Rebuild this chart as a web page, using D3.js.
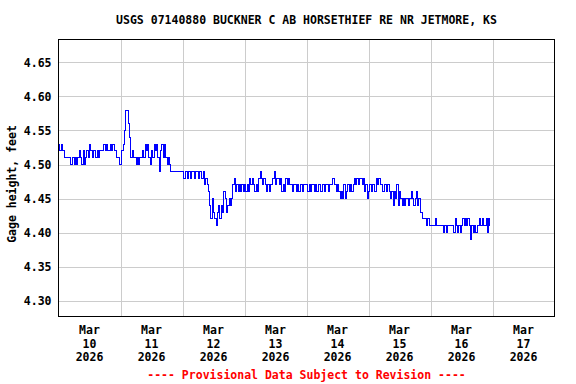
<!DOCTYPE html>
<html>
<head>
<meta charset="utf-8">
<script src="https://cdn.jsdelivr.net/npm/d3@7"></script>
<style>
  html, body { margin: 0; padding: 0; background: #fff; }
  svg text { font-family: "DejaVu Sans Mono", "Liberation Mono", monospace; font-weight: bold; }
</style>
</head>
<body>
<div id="chart"></div>
<script>
// ---- data: gage height, hundredths of a foot above 4.00 ft, every 30 minutes from Mar 10 00:00 ----
const title = "USGS 07140880 BUCKNER C AB HORSETHIEF RE NR JETMORE, KS";
const yTitle = "Gage height, feet";
const footnote = "---- Provisional Data Subject to Revision ----";
const stepMinutes = 30;
const mar10 = [53,52,53,52,52,51,51,51,51,50,50,51,50,51,50,51,52,51,50,52,50,51,52,51,
               53,52,51,52,52,51,52,51,52,52,52,53,52,53,52,52,53,52,53,52,52,51,51,50];
const mar11 = [50,52,53,55,58,58,56,54,51,52,51,51,50,51,50,51,51,52,51,53,52,53,51,50,
               52,51,53,52,53,51,49,52,53,51,53,51,50,51,50,49,49,49,49,49,49,49,49,49];
const mar12 = [49,48,49,49,48,49,48,49,49,48,49,49,48,49,49,48,49,47,48,47,46,44,42,45,
               43,42,41,43,44,42,44,43,46,45,43,44,45,44,45,47,48,46,47,46,47,46,47,46];
const mar13 = [47,46,47,46,48,47,48,47,46,47,46,48,49,48,47,48,47,46,47,46,47,47,48,49,
               47,48,48,47,48,46,47,46,48,47,48,47,47,46,47,47,46,47,46,47,47,46,47,47];
const mar14 = [47,46,47,46,47,47,46,47,46,47,47,46,47,47,46,47,47,46,47,47,48,48,47,46,
               47,46,45,46,45,47,45,46,47,46,47,46,47,48,47,48,47,48,48,47,48,46,47,45];
const mar15 = [46,47,46,47,47,46,48,47,48,47,47,46,47,47,46,47,46,45,46,44,46,45,47,44,
               46,45,44,45,44,45,45,44,45,46,45,44,45,46,44,45,43,43,42,42,42,41,42,41];
const mar16 = [41,41,41,41,42,41,41,41,41,41,40,41,40,41,41,41,41,41,40,42,41,40,41,40,
               41,42,41,42,41,42,41,39,41,40,41,40,41,41,42,41,42,41,41,42,40,42,41];
const yTicks = [4.30, 4.35, 4.40, 4.45, 4.50, 4.55, 4.60, 4.65];
const yDomain = [4.2765, 4.6838];
const xStart = Date.UTC(2026, 2, 10);
const xEnd = Date.UTC(2026, 2, 18);

const days = [mar10, mar11, mar12, mar13, mar14, mar15, mar16];
const series = days.flat().map((v, i) => ({
  t: new Date(xStart + i * stepMinutes * 60000),
  v: 4 + v / 100
}));

// ---- layout ----
const W = 576, H = 384;
const plot = { left: 58.5, right: 554.5, top: 39.5, bottom: 316.5 };

const svg = d3.select("#chart").append("svg")
  .attr("width", W).attr("height", H)
  .style("display", "block");

svg.append("rect").attr("width", W).attr("height", H).attr("fill", "#fff");

const x = d3.scaleUtc().domain([new Date(xStart), new Date(xEnd)]).range([plot.left, plot.right]);
const y = d3.scaleLinear().domain(yDomain).range([plot.bottom, plot.top]);

// grid
const grid = svg.append("g").attr("shape-rendering", "crispEdges");
grid.selectAll("line.h").data(yTicks).join("line")
  .attr("x1", plot.left).attr("x2", plot.right)
  .attr("y1", d => Math.round(y(d)) + 0.5).attr("y2", d => Math.round(y(d)) + 0.5)
  .attr("stroke", "#cccccc").attr("stroke-width", 1);
const dayBounds = d3.utcDay.range(new Date(xStart + 86400000), new Date(xEnd));
grid.selectAll("line.v").data(dayBounds).join("line")
  .attr("y1", plot.top).attr("y2", plot.bottom)
  .attr("x1", d => Math.round(x(d)) + 0.5).attr("x2", d => Math.round(x(d)) + 0.5)
  .attr("stroke", "#cccccc").attr("stroke-width", 1);

// data line
const line = d3.line()
  .x(d => x(d.t))
  .y(d => y(d.v))
  .curve(d3.curveStepAfter);
svg.append("path")
  .datum(series)
  .attr("d", line)
  .attr("fill", "none")
  .attr("stroke", "#0000ff")
  .attr("stroke-width", 1)
  .attr("shape-rendering", "crispEdges");

// frame
svg.append("rect")
  .attr("x", plot.left).attr("y", plot.top)
  .attr("width", plot.right - plot.left).attr("height", plot.bottom - plot.top)
  .attr("fill", "none").attr("stroke", "#000").attr("stroke-width", 1)
  .attr("shape-rendering", "crispEdges");

// y axis labels
const yAxis = d3.axisLeft(y).tickValues(yTicks).tickFormat(d3.format(".2f")).tickSize(0).tickPadding(7);
const gy = svg.append("g").attr("transform", `translate(${plot.left},0)`).call(yAxis);
gy.select(".domain").remove();
gy.selectAll("text").attr("font-size", "11.5px").attr("fill", "#000")
  .attr("font-family", "DejaVu Sans Mono").attr("font-weight", "bold");

// x axis labels (centred at noon of each day)
const labelDays = d3.utcDay.range(new Date(xStart), new Date(xEnd));
const fmtMon = d3.utcFormat("%b"), fmtDay = d3.utcFormat("%-d"), fmtYear = d3.utcFormat("%Y");
const xl = svg.append("g");
labelDays.forEach(d => {
  const cx = x(new Date(+d + 12 * 3600000));
  const t = xl.append("text").attr("text-anchor", "middle").attr("font-size", "11.5px").attr("fill", "#000");
  t.append("tspan").attr("x", cx).attr("y", 334).text(fmtMon(d));
  t.append("tspan").attr("x", cx).attr("y", 347.5).text(fmtDay(d));
  t.append("tspan").attr("x", cx).attr("y", 361).text(fmtYear(d));
});

// title
svg.append("text").attr("x", (plot.left + plot.right) / 2).attr("y", 24)
  .attr("text-anchor", "middle").attr("font-size", "11.5px").attr("fill", "#000").text(title);

// y title
svg.append("text")
  .attr("transform", `translate(16,${(plot.top + plot.bottom) / 2 + 6}) rotate(-90)`)
  .attr("text-anchor", "middle").attr("font-size", "11.5px").attr("fill", "#000").text(yTitle);

// footnote
svg.append("text").attr("x", (plot.left + plot.right) / 2).attr("y", 379)
  .attr("text-anchor", "middle").attr("font-size", "11.5px").attr("fill", "#ff0000").text(footnote);
</script>
</body>
</html>
